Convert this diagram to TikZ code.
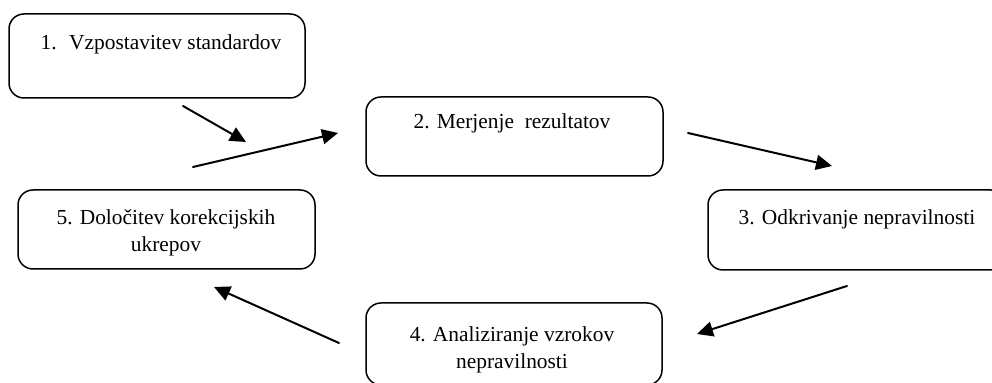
\documentclass[tikz,border=0pt]{standalone}
\usepackage{fontspec}
\setmainfont{Liberation Serif}
\usepackage{tikz}
\usetikzlibrary{arrows.meta}
\usetikzlibrary{positioning}

\tikzset{korak/.style={draw,rounded corners=7.5pt,line width=0.75pt,inner sep=0pt},
  napis/.style={anchor=base,align=center,inner sep=0pt,font=\fontsize{10.7}{13.5}\selectfont}}

\begin{document}
\begin{tikzpicture}[line cap=round,line join=round,>={Triangle[length=8pt,width=7.5pt]},x=0.5pt,y=-0.5pt]
\useasboundingbox (0,0) rectangle (992,383);
% okvirji
\node[korak,minimum width=148pt,minimum height=42pt] (k1) at (157,56) {};
\node[korak,minimum width=148.5pt,minimum height=39.5pt] (k2) at (514.5,136.5) {};
\node[korak,minimum width=149pt,minimum height=40pt] (k3) at (857,230) {};
\node[korak,minimum width=148pt,minimum height=41pt] (k4) at (514,344) {};
\node[korak,minimum width=148.5pt,minimum height=39.5pt] (k5) at (166.5,229.5) {};
% besedila (base = zadnja vrstica)
\node[napis] (n1) at (161,50) {1.~ Vzpostavitev standardov};
\node[napis] (n2) at (512,129) {2. Merjenje~ rezultatov};
\node[napis] (n3) at (857,225) {3. Odkrivanje nepravilnosti};
\node[napis] (n4) at (512,369) {4. Analiziranje vzrokov\\nepravilnosti};
\node[napis] (n5) at (166,252) {5. Določitev korekcijskih\\ukrepov};
% puscice
\coordinate (p1a) at (183,106);
\coordinate (p1b) at (246,142);
\coordinate (p2a) at (193,167);
\coordinate (p2b) at (338,133);
\coordinate (p3a) at (688,133);
\coordinate (p3b) at (832,166);
\coordinate (p4a) at (847,286);
\coordinate (p4b) at (697,334);
\coordinate (p5a) at (339,343);
\coordinate (p5b) at (214,287);
\foreach \i in {1,...,5}
\draw[->,line width=1pt] (p\i a) -- (p\i b);
\end{tikzpicture}
\end{document}
